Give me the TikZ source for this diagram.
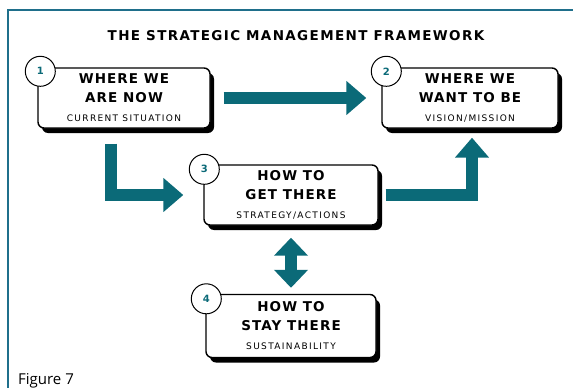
\documentclass[tikz,border=0pt]{standalone}
\usepackage{fontspec}
\setmainfont{DejaVu Sans}
\newfontfamily\titlefont{DejaVu Sans}[LetterSpace=10]
\newfontfamily\headfont{DejaVu Sans}[LetterSpace=8]
\newfontfamily\subfont{DejaVu Sans}[LetterSpace=15]
\newfontfamily\figfont{Open Sans}
\usetikzlibrary{arrows.meta,shadows}
\definecolor{arrowteal}{HTML}{0B6A78}
\definecolor{frameteal}{HTML}{1F6F8B}
\newcommand{\subline}[1]{{\subfont\mdseries\fontsize{9}{12}\selectfont #1}}
\begin{document}
\begin{tikzpicture}[x=1pt,y=-1pt,
  box/.style={draw=black,line width=1.4pt,fill=white,rounded corners=6pt,
    drop shadow={shadow xshift=4pt,shadow yshift=-5pt,fill=black,opacity=1},
    align=center,inner sep=0pt,font=\headfont\bfseries\fontsize{13.5}{19}\selectfont},
  num/.style={circle,draw=black,line width=1pt,fill=white,minimum size=30pt,inner sep=0pt,
    text=arrowteal,font=\bfseries\fontsize{10}{12}\selectfont},
  flow/.style={draw=arrowteal,line width=12pt,line join=miter,
    -{Triangle[width=33pt,length=20pt]}}]
  \useasboundingbox (0,0) rectangle (573,388);
% frame
  \draw[frameteal,line width=2.5pt] (8,388) -- (8,10) -- (573,10);
  \node[font=\titlefont\bfseries\fontsize{13.5}{16}\selectfont] (title) at (296,36) {THE STRATEGIC MANAGEMENT FRAMEWORK};
  \node[font=\figfont\fontsize{15}{18}\selectfont,anchor=base west,inner sep=0pt] (fig) at (18,384) {Figure 7};
% boxes
  \node[box,minimum width=172pt,minimum height=60pt] (b1) at (124,98) {WHERE WE\\ARE NOW\\\subline{CURRENT SITUATION}};
  \node[box,minimum width=176pt,minimum height=60pt] (b2) at (470,98) {WHERE WE\\WANT TO BE\\\subline{VISION/MISSION}};
  \node[box,minimum width=174pt,minimum height=60pt] (b3) at (291,195) {HOW TO\\GET THERE\\\subline{STRATEGY/ACTIONS}};
  \node[box,minimum width=170pt,minimum height=63pt] (b4) at (291,326) {HOW TO\\STAY THERE\\\subline{SUSTAINABILITY}};
% numbers
  \node[num] (n1) at ([xshift=3pt,yshift=-4pt]b1.north west) {1};
  \node[num] (n2) at ([xshift=5pt,yshift=-4pt]b2.north west) {2};
  \node[num] (n3) at ([xshift=1pt,yshift=-5pt]b3.north west) {3};
  \node[num] (n4) at ([xshift=1pt,yshift=-5pt]b4.north west) {4};
% arrows
  \draw[flow,shorten <=13pt,shorten >=15pt] (b1.east) -- (b2.west);
  \draw[flow,shorten <=15pt,shorten >=20pt] ([xshift=-13pt]b1.south) |- (b3.west);
  \draw[flow,shorten <=7pt,shorten >=9pt] (b3.east) -| ([xshift=2pt]b2.south);
  \draw[flow,{Triangle[width=33pt,length=18pt]}-{Triangle[width=33pt,length=18pt]},
    shorten <=12pt,shorten >=6pt] (b3.south) -- (b4.north);
\end{tikzpicture}
\end{document}
